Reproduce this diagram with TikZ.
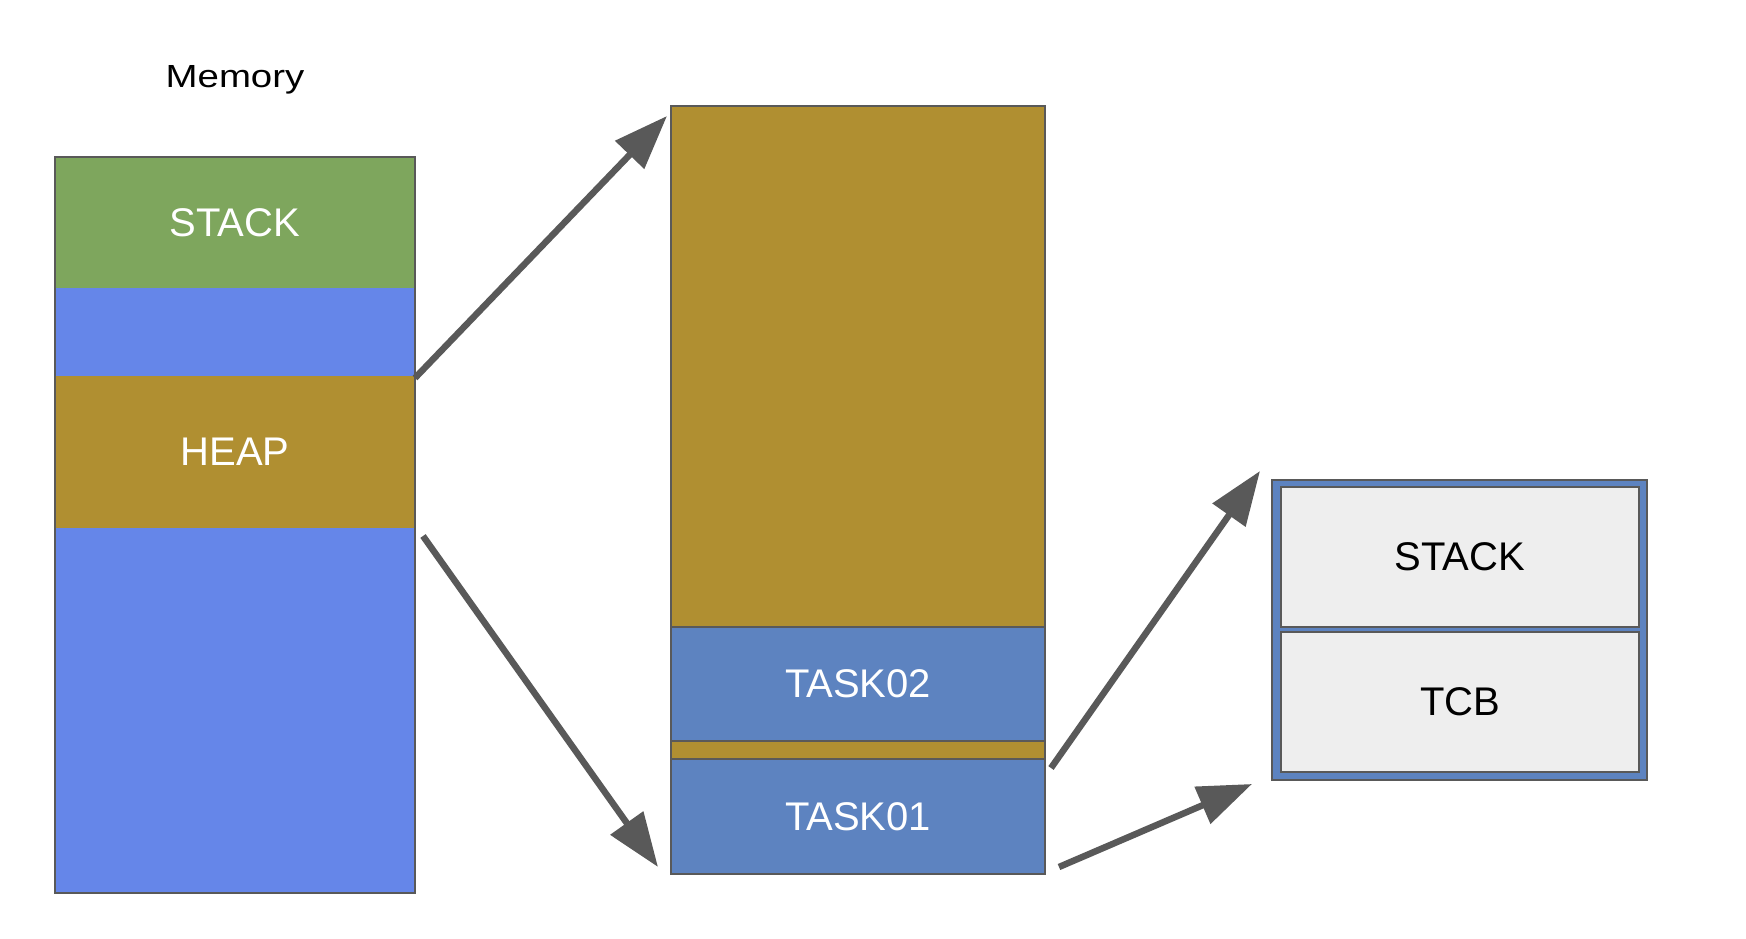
\documentclass[tikz,border=0pt]{standalone}
\usepackage{fontspec}
\setmainfont{Liberation Sans}
\usetikzlibrary{arrows.meta}
\definecolor{edgegray}{HTML}{595959}
\definecolor{stackgreen}{HTML}{7EA65D}
\definecolor{freeblue}{HTML}{6586E9}
\definecolor{heapgold}{HTML}{B08F31}
\definecolor{taskblue}{HTML}{5D83C0}
\definecolor{cellgray}{HTML}{EEEEEE}
\tikzset{
  blk/.style={anchor=north west, inner sep=0pt, outer sep=0pt, font=\fontsize{40}{48}\selectfont},
  seg/.style={blk, draw=edgegray, line width=2pt},
  bigarrow/.style={draw=edgegray, line width=6.5pt, -{Triangle[length=54pt,width=39pt]}},
}
\begin{document}
\begin{tikzpicture}[x=1pt,y=-1pt]
\useasboundingbox (0,0) rectangle (1746,939);
% Memory column
\node[font=\fontsize{32}{38}\selectfont, anchor=base, inner sep=0pt] (memlabel) at (235,88) {\scalebox{1.2}[1]{Memory}};
\node[blk, fill=stackgreen, text=white, minimum width=360pt, minimum height=131pt] (stackL) at (55,157) {STACK};
\node[blk, fill=freeblue, minimum width=360pt, minimum height=88pt] (freeA) at (55,288) {};
\node[blk, fill=heapgold, text=white, minimum width=360pt, minimum height=152pt] (heapL) at (55,376) {HEAP};
\node[blk, fill=freeblue, minimum width=360pt, minimum height=365pt] (freeB) at (55,528) {};
\node[seg, minimum width=360pt, minimum height=736pt] (memcol) at (55,157) {};
% Heap column
\node[seg, fill=heapgold, minimum width=374pt, minimum height=521pt] (heapM) at (671,106) {};
\node[seg, fill=taskblue, text=white, minimum width=374pt, minimum height=114pt] (task02) at (671,627) {TASK02};
\node[seg, fill=heapgold, minimum width=374pt, minimum height=18pt] (gap) at (671,741) {};
\node[seg, fill=taskblue, text=white, minimum width=374pt, minimum height=115pt] (task01) at (671,759) {TASK01};
% Task detail
\node[seg, fill=taskblue, minimum width=375pt, minimum height=300pt] (taskbox) at (1272,480) {};
\node[seg, fill=cellgray, minimum width=358pt, minimum height=140pt] (stackR) at (1281,487) {STACK};
\node[seg, fill=cellgray, minimum width=358pt, minimum height=140pt] (tcb) at (1281,632) {TCB};
% arrow end points
\coordinate (a1s) at (415,378);
\coordinate (a1e) at (667,116);
\coordinate (a2s) at (423,536);
\coordinate (a2e) at (658,867);
\coordinate (a3s) at (1051,768);
\coordinate (a3e) at (1260,471);
\coordinate (a4s) at (1059,867);
\coordinate (a4e) at (1252,784);
\draw[bigarrow] (a1s) -- (a1e);
\draw[bigarrow] (a2s) -- (a2e);
\draw[bigarrow] (a3s) -- (a3e);
\draw[bigarrow] (a4s) -- (a4e);
\end{tikzpicture}
\end{document}
